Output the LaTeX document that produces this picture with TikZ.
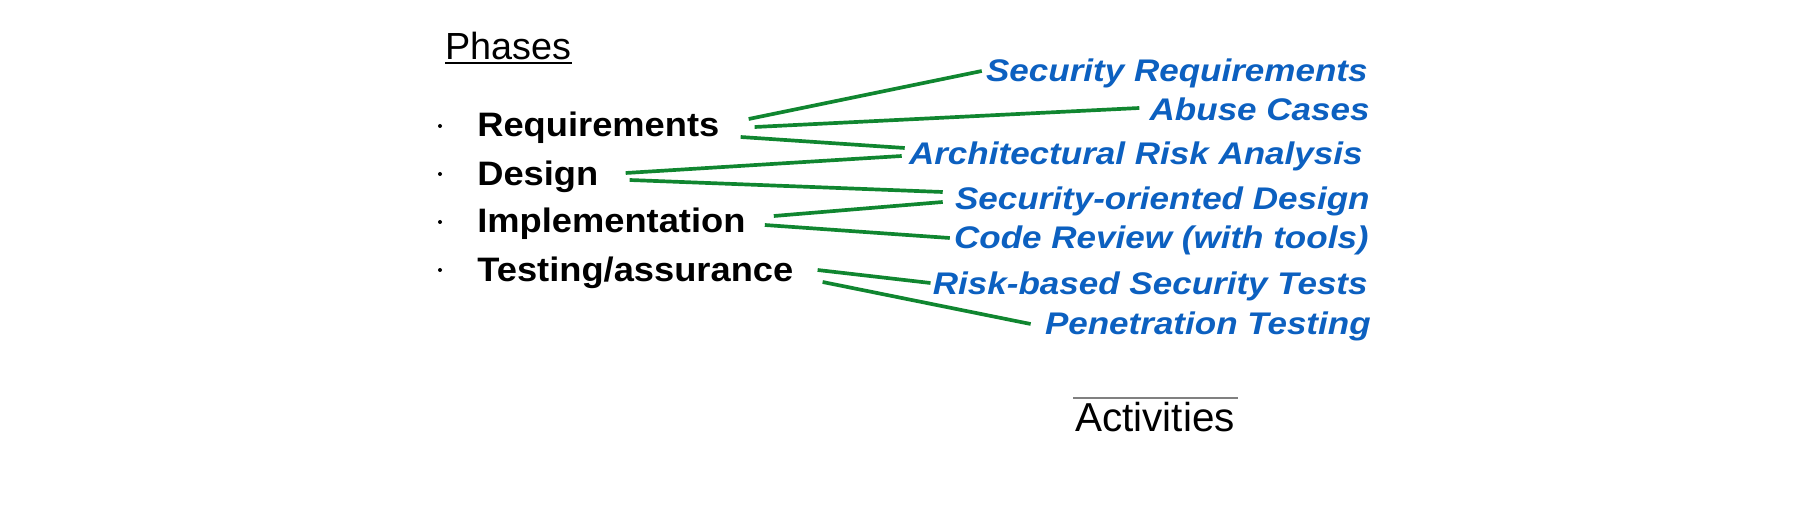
\documentclass[tikz,border=0pt]{standalone}
\usepackage{fontspec}
\setmainfont{Liberation Sans}
\newfontfamily\phasefont{Liberation Sans}[FakeStretch=1.07]
\newfontfamily\actfont{Liberation Sans}[FakeStretch=1.12]
\usetikzlibrary{calc}
\definecolor{actblue}{RGB}{12,96,192}
\definecolor{linkgreen}{RGB}{16,134,48}

\begin{document}
\begin{tikzpicture}[x=0.02cm, y=-0.02cm,
    heading/.style={inner sep=0, font=\fontsize{21.5}{24}\selectfont},
    phase/.style={anchor=base west, inner sep=0, font=\phasefont\fontsize{19.3}{22}\selectfont\bfseries},
    activity/.style={anchor=base east, inner sep=0, text=actblue, font=\actfont\fontsize{17.8}{20}\selectfont\bfseries\itshape},
    bullet/.style={circle, fill, inner sep=0, minimum size=0.08cm},
    link/.style={draw=linkgreen, line width=2.1pt}]
    \useasboundingbox (0,0) rectangle (1800,520);
    % Phases column
    \node[heading, anchor=base west] (ph) at (445,60) {Phases};
    \draw[line width=0.7pt] ($(ph.base west)+(0,3)$) -- ($(ph.base east)+(0,3)$);
    \node[bullet] (b1) at (440,126) {};
    \node[bullet] (b2) at (440,174) {};
    \node[bullet] (b3) at (440,222) {};
    \node[bullet] (b4) at (440,270) {};
    \node[phase] (req) at (477,137) {Requirements};
    \node[phase] (des) at (477,186) {Design};
    \node[phase] (imp) at (477,233) {Implementation};
    \node[phase] (tst) at (477,282) {Testing/assurance};
    % Activities column
    \node[activity] (secreq) at (1368,82) {Security Requirements};
    \node[activity] (abuse) at (1370,121) {Abuse Cases};
    \node[activity] (ara) at (1363,165) {Architectural Risk Analysis};
    \node[activity] (sod) at (1370,210) {Security-oriented Design};
    \node[activity] (review) at (1369,249) {Code Review (with tools)};
    \node[activity] (risktest) at (1368,295) {Risk-based Security Tests};
    \node[activity] (pentest) at (1371,335) {Penetration Testing};
    \node[heading, anchor=base west, font=\fontsize{23}{26}\selectfont] (act) at (1075,432) {Activities};
    \draw[gray, line width=0.7pt] ($(act.base west)+(-2,-34)$) -- ($(act.base east)+(3,-34)$);
    % Links between phases and activities
    \draw[link] ($(req.base east)+(29,-18)$) -- ($(secreq.base west)+(-4,-11)$);
    \draw[link] ($(req.base east)+(35,-10)$) -- ($(abuse.base west)+(-10,-13)$);
    \draw[link] ($(req.base east)+(21,0)$) -- ($(ara.base west)+(-4,-17)$);
    \draw[link] ($(des.base east)+(27,-13)$) -- ($(ara.base west)+(-7,-9)$);
    \draw[link] ($(des.base east)+(31,-6)$) -- ($(sod.base west)+(-12,-18)$);
    \draw[link] ($(imp.base east)+(28,-17)$) -- ($(sod.base west)+(-12,-8)$);
    \draw[link] ($(imp.base east)+(19,-8)$) -- ($(review.base west)+(-4,-11)$);
    \draw[link] ($(tst.base east)+(24,-12)$) -- ($(risktest.base west)+(-2,-12)$);
    \draw[link] ($(tst.base east)+(29,0)$) -- ($(pentest.base west)+(-14,-11)$);
\end{tikzpicture}
\end{document}
